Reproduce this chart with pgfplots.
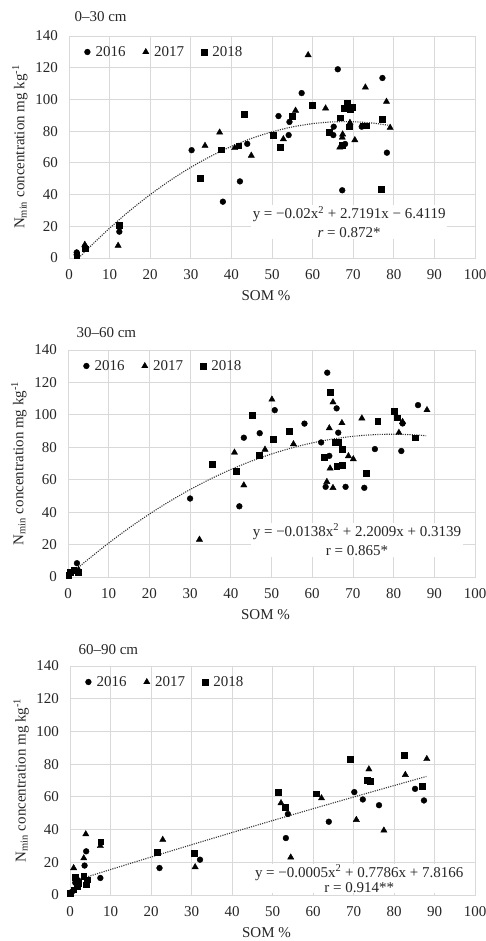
\documentclass[border=0pt]{standalone}
\usepackage{pgfplots}
\pgfplotsset{compat=1.18}
\usepackage{fontspec}
\setmainfont{Liberation Serif}
\newcommand{\fs}{\fontsize{15}{17}\selectfont}
\pgfplotsset{
  myax/.style={
    scale only axis, clip=false,
    xmin=0, xmax=100, ymin=0, ymax=140,
    xtick={0,10,...,100}, ytick={0,20,...,140},
    grid=major, grid style={draw=black!15, line width=0.8pt},
    axis line style={draw=black!15, line width=0.8pt},
    major tick length=0pt,
    tick label style={font=\fs, text=black!85},
    /pgf/number format/assume math mode=true,
    yticklabel style={xshift=-7.5pt},
    xticklabel style={yshift=-8pt},
    ylabel={N\textsubscript{min} concentration mg kg\textsuperscript{-1}},
    every axis y label/.style={at={(axis description cs:-0.1207,0.5)}, rotate=90, anchor=center, font=\fs, text=black!85},
    xlabel={SOM \%},
    every axis x label/.style={at={(axis description cs:0.5,0)}, anchor=center, yshift=-38pt, xshift=-6pt, font=\fs, text=black!85},
    legend columns=3,
    legend style={draw=none, fill=none, font=\fs, text=black!85, inner sep=0pt,
      at={(axis description cs:0,1)}, anchor=west, xshift=14pt, yshift=-16pt,
      /tikz/every even column/.append style={column sep=14pt}},
    legend image code/.code={\path (0pt,0pt) (10pt,0pt); \draw[#1] plot coordinates {(4pt,0pt)};},
  },
  c16/.style={only marks, mark=*, mark size=2.9pt, color=black},
  c17/.style={only marks, mark=triangle*, mark size=3.6pt, color=black},
  c18/.style={only marks, mark=square*, mark size=2.9pt, color=black},
  trend/.style={color=black!80, line width=1.1pt, dash pattern=on 1.1pt off 1.2pt, smooth, forget plot},
}
\begin{document}
\begin{tikzpicture}
\path[use as bounding box] (0pt,0pt) rectangle (486pt,941pt);
% ---------------- 0-30 cm
\begin{axis}[myax, name=ax1, at={(69pt,683pt)}, anchor=south west, width=406pt, height=222pt]
\addplot[trend] coordinates {(2.4,0) (5,6.684) (10,18.779) (15,29.875) (20,39.970) (25,49.066) (30,57.161) (35,64.257) (40,70.352) (45,75.448) (50,79.543) (55,82.639) (60,84.734) (65,85.830) (70,85.925) (75,85.021) (79,83.577)};
\addplot[c16] coordinates {(1.9,3.5) (3.9,7) (12.4,16.6) (30.2,68) (37.9,35.5) (42.1,48.3) (43.9,72) (51.6,89.5) (54.1,77.5) (54.3,85.8) (57.3,104) (65.2,82.8) (65.1,77.5) (66.2,119) (67.3,42.7) (68,71.9) (72.1,82.8) (77.2,113.5) (78.3,66.4)};
\addlegendentry{2016}
\addplot[c17] coordinates {(1.9,3) (3.9,8.4) (12.1,7.8) (33.5,70.8) (37.1,79.2) (40.8,69.4) (44.9,64.6) (52.8,75) (55.8,93) (58.9,128) (63.2,94.4) (66.7,69.8) (67.4,78) (67.3,76) (69.2,85.3) (70.4,74.4) (73,107.6) (78.2,98.6) (79.1,82.2)};
\addlegendentry{2017}
\addplot[c18] coordinates {(1.9,1.8) (3.9,5.9) (12.4,20.5) (32.3,50.5) (37.4,68.3) (41.8,70.8) (43.2,90.8) (50.3,77.2) (52.1,70) (55,89.6) (59.9,96.5) (64.1,79.2) (66.7,88.5) (67.7,94.4) (68.6,97.5) (69.2,93.7) (69.9,95) (69,82.8) (72.5,83.4) (73.2,83.4) (67.2,71.2) (77.1,87.6) (76.8,43.5)};
\addlegendentry{2018}
\node[fill=white, inner sep=1.5pt, align=center, font=\fontsize{15}{19}\selectfont, text=black!85] at (axis cs:69,22.7) {y = −0.02x\textsuperscript{2} + 2.7191x − 6.4119\\\textit{r} = 0.872*};
\end{axis}
\node[anchor=west, font=\fs, text=black!85] at ([xshift=2pt,yshift=19pt]ax1.north west) {0–30 cm};
% ---------------- 30-60 cm
\begin{axis}[myax, name=ax2, at={(68pt,364pt)}, anchor=south west, width=407pt, height=227pt]
\addplot[trend] coordinates {(2.5,5.81) (5,10.974) (10,20.943) (15,30.223) (20,38.812) (25,46.712) (30,53.921) (35,60.441) (40,66.270) (45,71.410) (50,75.859) (55,79.619) (60,82.688) (65,85.068) (70,86.757) (75,87.757) (80,88.066) (85,87.686) (88,87.126)};
\addplot[c16] coordinates {(2.2,8.5) (30,48.4) (42.1,43.6) (43.2,85.9) (47.1,88.7) (50.8,102.9) (58.1,94.6) (62.2,83) (63.7,126) (63.3,55.6) (64.2,74.7) (66,104) (66.4,89) (68.2,55.6) (72.8,55) (75.4,78.9) (81.9,77.7) (82.2,94.7) (86,106)};
\addlegendentry{2016}
\addplot[c17] coordinates {(2.6,4.5) (32.3,23.1) (40.9,76.8) (43.2,56.6) (48.4,78.6) (50.1,109.5) (55.4,82) (63.6,58.7) (64.2,91.8) (64.4,67) (65.1,107.8) (65.1,55) (67.3,95) (68.9,74.6) (70.1,72.7) (72.2,97.9) (81.3,89) (82.2,95.7) (88.2,103)};
\addlegendentry{2017}
\addplot[c18] coordinates {(0.15,1) (0.6,3.1) (1.4,4.1) (2.6,3.1) (35.4,69.6) (41.3,65.1) (45.3,99.9) (47,74.9) (50.5,84.8) (54.3,89.8) (63,74.1) (64.4,113.8) (65.6,83.3) (66.4,83.3) (66,68.5) (67.3,68.8) (67.3,78.9) (73.2,63.9) (76.1,96) (80.2,102.4) (80.8,98.3) (85.4,85.9)};
\addlegendentry{2018}
\node[fill=white, inner sep=1.5pt, align=center, font=\fontsize{15}{19}\selectfont, text=black!85] at (axis cs:71,23) {y = −0.0138x\textsuperscript{2} + 2.2009x + 0.3139\\r = 0.865*};
\end{axis}
\node[anchor=west, font=\fs, text=black!85] at ([xshift=5pt,yshift=17pt]ax2.north west) {30–60 cm};
% ---------------- 60-90 cm
\begin{axis}[myax, name=ax3, at={(70pt,46pt)}, anchor=south west, width=405pt, height=229pt]
\addplot[trend] coordinates {(4.5,11.31) (10,15.553) (20,23.189) (30,30.725) (40,38.161) (50,45.497) (60,52.733) (70,59.869) (80,66.905) (88,72.462)};
\addplot[c16] coordinates {(0.5,2) (1.3,7.5) (2,9) (3.6,18) (4,26.7) (7.5,10.4) (22.1,16.5) (32.1,21.6) (53.3,34.8) (53.8,49.5) (63.9,44.8) (70.2,62.9) (72.3,58.4) (76.3,54.9) (85.2,64.9) (87.4,57.8)};
\addlegendentry{2016}
\addplot[c17] coordinates {(0.9,16.5) (3.4,22.5) (3.9,37.2) (7.5,30) (22.9,33.8) (30.9,17.1) (52.1,56.2) (54.5,23) (62.1,59.2) (70.7,46) (73.8,76.9) (77.5,39.5) (82.8,73.5) (88.1,83.2)};
\addlegendentry{2017}
\addplot[c18] coordinates {(0.1,1.2) (0.9,3.2) (1.3,10.8) (3.4,11.6) (4.2,9.3) (2.1,7.3) (4,6.3) (1.7,5.3) (7.6,32.6) (21.5,26.3) (30.7,25.4) (51.4,62.7) (53.1,53.9) (60.7,61.9) (69.1,82.8) (73.3,70.4) (74.2,69.4) (82.6,85.3) (87,66.3)};
\addlegendentry{2018}
\node[fill=white, inner sep=0.5pt, align=center, font=\fontsize{15}{15}\selectfont, text=black!85] at (axis cs:71.4,10) {y = −0.0005x\textsuperscript{2} + 0.7786x + 7.8166\\r = 0.914**};
\end{axis}
\node[anchor=west, font=\fs, text=black!85] at ([xshift=5pt,yshift=16pt]ax3.north west) {60–90 cm};
\end{tikzpicture}
\end{document}
